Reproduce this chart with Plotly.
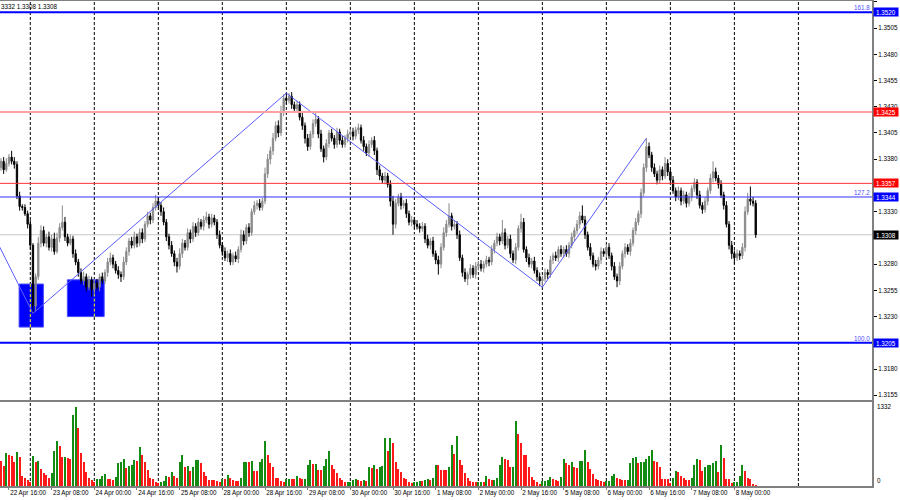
import pandas as pd
import plotly.graph_objects as go

# ---------------- data ----------------
start_time = "2025-04-22 13:00"
end_time = "2025-05-08 08:00"
first_open = 1.3372

close_22apr = [1.3378, 1.3370, 1.3376, 1.3382, 1.3378, 1.3375, 1.3345, 1.3335, 1.3334, 1.3328, 1.3318]
close_23apr = [1.3298, 1.3240, 1.3268, 1.3300, 1.3312, 1.3300, 1.3306, 1.3296, 1.3304, 1.3292, 1.3305, 1.3315,
               1.3320, 1.3306, 1.3300, 1.3304, 1.3290, 1.3282, 1.3272, 1.3264, 1.3268, 1.3258, 1.3265, 1.3256]
close_24apr = [1.3262, 1.3258, 1.3268, 1.3264, 1.3272, 1.3282, 1.3286, 1.3280, 1.3274, 1.3270, 1.3268, 1.3282,
               1.3292, 1.3302, 1.3298, 1.3306, 1.3300, 1.3310, 1.3304, 1.3318, 1.3326, 1.3322, 1.3334, 1.3340]
close_25apr = [1.3336, 1.3330, 1.3320, 1.3306, 1.3298, 1.3290, 1.3282, 1.3278, 1.3290, 1.3300, 1.3296, 1.3310,
               1.3304, 1.3316, 1.3310, 1.3320, 1.3316, 1.3322, 1.3325, 1.3318, 1.3324, 1.3320, 1.3308, 1.3298]
close_28apr = [1.3292, 1.3286, 1.3290, 1.3282, 1.3288, 1.3285, 1.3294, 1.3308, 1.3302, 1.3315, 1.3310, 1.3330,
               1.3336, 1.3338, 1.3334, 1.3340, 1.3366, 1.3380, 1.3388, 1.3400, 1.3412, 1.3405, 1.3425, 1.3438]
close_29apr = [1.3436, 1.3440, 1.3432, 1.3428, 1.3432, 1.3420, 1.3412, 1.3400, 1.3392, 1.3404, 1.3414, 1.3418,
               1.3404, 1.3390, 1.3382, 1.3395, 1.3405, 1.3400, 1.3394, 1.3406, 1.3398, 1.3394, 1.3400, 1.3404]
close_30apr = [1.3406, 1.3402, 1.3408, 1.3410, 1.3398, 1.3392, 1.3386, 1.3394, 1.3398, 1.3388, 1.3370, 1.3364,
               1.3360, 1.3364, 1.3356, 1.3340, 1.3318, 1.3338, 1.3344, 1.3336, 1.3338, 1.3328, 1.3320, 1.3322]
close_01may = [1.3318, 1.3316, 1.3314, 1.3316, 1.3304, 1.3298, 1.3302, 1.3290, 1.3284, 1.3280, 1.3296, 1.3310,
               1.3318, 1.3326, 1.3316, 1.3318, 1.3308, 1.3286, 1.3272, 1.3266, 1.3270, 1.3276, 1.3270, 1.3278]
close_02may = [1.3280, 1.3276, 1.3280, 1.3284, 1.3282, 1.3294, 1.3300, 1.3306, 1.3302, 1.3310, 1.3298, 1.3304,
               1.3290, 1.3284, 1.3296, 1.3314, 1.3320, 1.3294, 1.3286, 1.3280, 1.3283, 1.3274, 1.3268, 1.3264]
close_05may = [1.3266, 1.3272, 1.3270, 1.3284, 1.3288, 1.3286, 1.3294, 1.3290, 1.3294, 1.3290, 1.3298, 1.3306,
               1.3312, 1.3318, 1.3326, 1.3322, 1.3308, 1.3296, 1.3288, 1.3280, 1.3278, 1.3284, 1.3292, 1.3290]
close_06may = [1.3296, 1.3288, 1.3278, 1.3268, 1.3264, 1.3278, 1.3290, 1.3296, 1.3292, 1.3300, 1.3312, 1.3320,
               1.3328, 1.3348, 1.3372, 1.3392, 1.3384, 1.3372, 1.3366, 1.3360, 1.3370, 1.3364, 1.3376, 1.3368]
close_07may = [1.3360, 1.3350, 1.3344, 1.3350, 1.3340, 1.3346, 1.3338, 1.3344, 1.3352, 1.3358, 1.3346, 1.3336,
               1.3332, 1.3340, 1.3350, 1.3362, 1.3368, 1.3362, 1.3356, 1.3346, 1.3336, 1.3318, 1.3298, 1.3290]
close_08may = [1.3286, 1.3290, 1.3288, 1.3296, 1.3330, 1.3342, 1.3340, 1.3338, 1.3308]

# upper / lower wick lengths in pips
wick_up = ([3, 4, 5, 3, 6, 4, 3, 4, 2, 3, 3] +
           [4, 2, 3, 6, 5, 4, 3, 5, 4, 6, 5, 4, 16, 5, 3, 4, 3, 4, 3, 4, 5, 3, 4, 3] +
           [3, 4, 3, 4, 3, 4, 5, 3, 3, 4, 3, 5, 4, 3, 4, 5, 3, 4, 4, 3, 4, 3, 4, 6] +
           [4, 3, 4, 3, 3, 4, 3, 4, 5, 4, 3, 4, 3, 4, 3, 4, 3, 4, 5, 3, 4, 3, 3, 4] +
           [3, 4, 3, 4, 3, 4, 3, 5, 4, 3, 4, 3, 4, 3, 4, 3, 6, 5, 4, 5, 4, 5, 6, 4] +
           [5, 3, 4, 3, 4, 3, 4, 3, 4, 3, 4, 7, 3, 4, 3, 4, 3, 4, 3, 4, 3, 4, 3, 4] +
           [3, 4, 3, 4, 3, 4, 3, 4, 3, 4, 3, 4, 3, 4, 3, 4, 5, 4, 3, 4, 3, 4, 3, 4] +
           [3, 4, 3, 4, 3, 4, 3, 4, 3, 4, 4, 5, 4, 12, 3, 4, 3, 4, 3, 4, 3, 4, 3, 4] +
           [3, 4, 3, 4, 3, 4, 3, 4, 3, 12, 4, 3, 4, 3, 4, 3, 8, 4, 3, 4, 3, 4, 3, 4] +
           [3, 4, 3, 4, 3, 4, 3, 4, 3, 4, 3, 4, 3, 4, 4, 10, 4, 3, 4, 3, 4, 3, 4, 3] +
           [3, 4, 3, 4, 3, 4, 3, 4, 3, 4, 3, 4, 3, 4, 4, 8, 4, 3, 4, 3, 4, 3, 6, 4] +
           [3, 4, 3, 4, 3, 4, 3, 4, 3, 4, 3, 4, 3, 4, 3, 4, 10, 4, 3, 4, 3, 4, 3, 4] +
           [3, 4, 3, 4, 5, 6, 12, 4, 3])
wick_dn = ([3, 4, 2, 3, 3, 4, 3, 4, 3, 2, 4] +
           [4, 7, 5, 3, 4, 3, 4, 3, 4, 3, 2, 4, 3, 4, 3, 2, 4, 3, 4, 3, 4, 4, 3, 7] +
           [4, 3, 4, 3, 3, 4, 3, 4, 3, 4, 5, 3, 3, 4, 3, 3, 4, 3, 4, 3, 3, 4, 3, 3] +
           [3, 4, 3, 4, 4, 3, 4, 6, 3, 4, 3, 3, 4, 3, 4, 3, 3, 4, 3, 4, 3, 3, 4, 3] +
           [4, 3, 4, 3, 3, 3, 4, 3, 4, 3, 4, 3, 3, 4, 3, 3, 3, 4, 5, 4, 3, 4, 3, 4] +
           [4, 3, 4, 3, 4, 3, 4, 5, 4, 3, 4, 3, 4, 3, 5, 3, 4, 3, 4, 3, 4, 3, 3, 4] +
           [3, 4, 3, 4, 3, 4, 3, 4, 3, 4, 5, 4, 3, 4, 3, 5, 10, 4, 3, 4, 3, 4, 3, 4] +
           [4, 3, 4, 3, 4, 3, 4, 3, 4, 10, 4, 3, 4, 3, 4, 3, 4, 3, 4, 3, 6, 4, 3, 4] +
           [4, 3, 4, 3, 4, 3, 4, 3, 4, 3, 4, 3, 4, 3, 4, 3, 4, 3, 4, 3, 4, 3, 4, 5] +
           [6, 3, 4, 3, 4, 3, 4, 3, 4, 3, 4, 3, 4, 3, 4, 3, 4, 3, 4, 3, 4, 3, 4, 3] +
           [4, 3, 4, 3, 6, 4, 3, 4, 3, 4, 3, 4, 3, 4, 3, 4, 3, 4, 3, 4, 3, 4, 3, 4] +
           [4, 3, 4, 3, 4, 3, 4, 3, 4, 3, 4, 3, 4, 3, 4, 3, 4, 3, 4, 3, 4, 3, 4, 5] +
           [6, 3, 4, 3, 4, 3, 4, 3, 3])

vol_22apr = [425, 340, 550, 527, 510, 397, 578, 482, 170, 130, 96]
vol_23apr = [74, 510, 408, 414, 284, 210, 187, 142, 210, 595, 754, 680, 482, 487, 465, 460, 1190, 1332, 981, 550, 397, 227, 130, 102]
vol_24apr = [74, 113, 125, 170, 198, 113, 110, 102, 153, 380, 397, 454, 295, 340, 352, 437, 425, 652, 522, 397, 266, 130, 113, 74]
vol_25apr = [57, 68, 85, 170, 153, 227, 170, 142, 397, 527, 323, 330, 255, 323, 442, 445, 380, 227, 170, 102, 98, 96, 85, 68]
vol_28apr = [113, 110, 187, 130, 96, 85, 80, 130, 397, 408, 397, 425, 255, 250, 397, 454, 748, 522, 380, 312, 142, 138, 85, 68]
vol_29apr = [113, 118, 113, 110, 170, 142, 113, 125, 352, 437, 369, 372, 272, 266, 340, 454, 584, 357, 284, 210, 142, 102, 66, 70]
vol_30apr = [74, 102, 113, 102, 85, 102, 85, 323, 300, 357, 284, 312, 329, 805, 584, 810, 720, 397, 284, 227, 130, 113, 74, 57]
vol_01may = [62, 74, 85, 80, 102, 113, 108, 130, 352, 345, 272, 268, 265, 323, 697, 539, 833, 437, 352, 210, 130, 85, 74, 62]
vol_02may = [68, 70, 66, 170, 113, 96, 102, 142, 352, 482, 454, 437, 312, 323, 1094, 879, 726, 527, 520, 312, 153, 96, 74, 28]
vol_05may = [85, 88, 96, 153, 113, 96, 85, 153, 454, 380, 357, 397, 312, 305, 414, 425, 607, 397, 284, 198, 113, 102, 85, 74]
vol_06may = [78, 80, 170, 198, 142, 113, 96, 94, 102, 386, 471, 493, 380, 397, 400, 454, 510, 607, 425, 408, 312, 125, 113, 110]
vol_07may = [57, 142, 244, 227, 170, 130, 102, 96, 142, 357, 454, 437, 244, 312, 352, 355, 386, 425, 238, 697, 471, 125, 113, 57]
vol_08may = [68, 70, 170, 357, 244, 142, 113, 40, 20]

level_prices = [1.3520, 1.3425, 1.3357, 1.3344, 1.3205]
level_labels = ["1.3520", "1.3425", "1.3357", "1.3344", "1.3205"]
level_fib = ["161.8", "", "", "127.2", "100.0"]
bid_price = 1.3308
bid_label = "1.3308"
header_text = "3332 1.3308 1.3308"
vol_max_label = "1332"

zigzag_bar = [-13, 1, 96, 192, 231]
zigzag_price = [1.3304, 1.3233, 1.3443, 1.3258, 1.3400]

zone_bar0 = [-4.2, 13.9]
zone_bar1 = [4.9, 27.7]
zone_low = [1.3220, 1.3230]
zone_high = [1.3261, 1.3265]

price_ticks = [1.3155, 1.3180, 1.3205, 1.3230, 1.3255, 1.3280, 1.3305, 1.3330,
               1.3355, 1.3380, 1.3405, 1.3430, 1.3455, 1.3480, 1.3505, 1.3530]
# labels hidden behind the level boxes in the reference are left blank
price_tick_text = ["1.3155", "1.3180", "", "1.3230", "1.3255", "1.3280", "", "1.3330",
                   "", "1.3380", "1.3405", "1.3430", "1.3455", "1.3480", "1.3505", "1.3530"]

# ---------------- build ----------------
close = (close_22apr + close_23apr + close_24apr + close_25apr + close_28apr + close_29apr +
         close_30apr + close_01may + close_02may + close_05may + close_06may + close_07may + close_08may)
volume = (vol_22apr + vol_23apr + vol_24apr + vol_25apr + vol_28apr + vol_29apr +
          vol_30apr + vol_01may + vol_02may + vol_05may + vol_06may + vol_07may + vol_08may)

hours = pd.date_range(start_time, end_time, freq="h")
times = [t for t in hours if t.dayofweek < 5]
n = len(times)
assert len(close) == n and len(volume) == n and len(wick_up) == n and len(wick_dn) == n

k0 = times.index(pd.Timestamp("2025-04-23 00:00"))
xk = [i - k0 for i in range(n)]
opens = [first_open] + close[:-1]
highs = [max(o, c) + u * 0.0001 for o, c, u in zip(opens, close, wick_up)]
lows = [min(o, c) - d * 0.0001 for o, c, d in zip(opens, close, wick_dn)]

GREEN = "#148c14"
RED = "#ff1a1a"
vcol = [RED] + [GREEN if volume[i] > volume[i - 1] else RED for i in range(1, n)]

midnights = [xk[i] for i, t in enumerate(times) if t.hour == 0]
midnights.append(midnights[-1] + 24)

lab0 = times.index(pd.Timestamp("2025-04-22 16:00"))
lab_idx = list(range(lab0, n, 16))
lab_x = [xk[i] for i in lab_idx]
lab_text = [f"{times[i].day} {times[i].strftime('%b')} {times[i].strftime('%H:%M')}" for i in lab_idx]

PX = 2.667
X_LEFT = -30.3 / PX
X_RIGHT = (872 - 30.3) / PX

FONT = "Liberation Sans, Arial, sans-serif"
FS = 6.3

fig = go.Figure()
fig.add_trace(go.Candlestick(
    x=xk, open=opens, high=highs, low=lows, close=close,
    increasing=dict(line=dict(color="#8a8a8a", width=1), fillcolor="#8a8a8a"),
    decreasing=dict(line=dict(color="#000000", width=1), fillcolor="#000000"),
    whiskerwidth=0, xaxis="x", yaxis="y", hoverinfo="skip", showlegend=False))
fig.add_trace(go.Scatter(x=zigzag_bar, y=zigzag_price, mode="lines",
                         line=dict(color="#5c5cff", width=1), xaxis="x", yaxis="y",
                         hoverinfo="skip", showlegend=False))
fig.add_trace(go.Bar(x=xk, y=volume, marker=dict(color=vcol, line=dict(width=0)), width=0.72,
                     xaxis="x2", yaxis="y2", hoverinfo="skip", showlegend=False))

shapes = []
for a, b, lo, hi in zip(zone_bar0, zone_bar1, zone_low, zone_high):
    shapes.append(dict(type="rect", xref="x", yref="y", x0=a, x1=b, y0=lo, y1=hi,
                       fillcolor="#0000ff", line=dict(color="#4646ff", width=1), layer="below"))
for m in midnights:
    for yr in ("y domain", "y2 domain"):
        shapes.append(dict(type="line", xref="x", yref=yr, x0=m, x1=m, y0=0, y1=1,
                           line=dict(color="#000000", width=1, dash="3px,2px"), layer="below"))
for a, b, lo, hi in zip(zone_bar0, zone_bar1, zone_low, zone_high):
    for m in midnights:
        if a < m < b:
            shapes.append(dict(type="line", xref="x", yref="y", x0=m, x1=m, y0=lo, y1=hi,
                               line=dict(color="#ffff00", width=1, dash="3px,2px"), layer="below"))
shapes.append(dict(type="line", xref="paper", yref="y", x0=0, x1=1, y0=bid_price, y1=bid_price,
                   line=dict(color="#c8c8c8", width=1), layer="below"))
level_style = [("#0000ff", 2), ("#ffa0a0", 2), ("#ff3030", 1), ("#3030ff", 1), ("#0000ff", 2)]
for p, (c, w) in zip(level_prices, level_style):
    shapes.append(dict(type="line", xref="paper", yref="y", x0=0, x1=1, y0=p, y1=p,
                       line=dict(color=c, width=w), layer="above"))

annotations = []
box_colors = ["#0000ff", "#ff0000", "#ff0000", "#0000ff", "#0000ff"]
for p, t, bc, fib in zip(level_prices, level_labels, box_colors, level_fib):
    annotations.append(dict(xref="paper", yref="y", x=1, y=p, xanchor="left", yanchor="middle",
                            xshift=1, text=t, showarrow=False, bgcolor=bc, borderpad=0,
                            width=24, height=8, font=dict(family=FONT, size=FS, color="white")))
    if fib:
        annotations.append(dict(xref="paper", yref="y", x=1, y=p, xanchor="right", yanchor="bottom",
                                xshift=-1, text=fib, showarrow=False, borderpad=0,
                                font=dict(family=FONT, size=FS, color="#5050ff")))
annotations.append(dict(xref="paper", yref="y", x=1, y=bid_price, xanchor="left", yanchor="middle",
                        xshift=1, text=bid_label, showarrow=False, bgcolor="#000000", borderpad=0,
                        width=24, height=8, font=dict(family=FONT, size=FS, color="white")))
annotations.append(dict(xref="paper", yref="paper", x=0, y=1, xanchor="left", yanchor="top",
                        yshift=-1, text=header_text, showarrow=False, borderpad=0,
                        font=dict(family=FONT, size=FS, color="#000000")))
annotations.append(dict(xref="paper", yref="y2", x=1, y=1332, xanchor="left", yanchor="middle",
                        xshift=4, text=vol_max_label, showarrow=False, borderpad=0,
                        font=dict(family=FONT, size=FS, color="#000000")))
annotations.append(dict(xref="paper", yref="y2", x=1, y=0, xanchor="left", yanchor="middle",
                        xshift=4, yshift=5, text="0", showarrow=False, borderpad=0,
                        font=dict(family=FONT, size=FS, color="#000000")))

AX = "#808080"
fig.update_layout(
    width=900, height=500,
    margin=dict(l=0, r=28, t=1, b=14),
    paper_bgcolor="white", plot_bgcolor="white",
    showlegend=False, bargap=0,
    font=dict(family=FONT, size=FS, color="#000000"),
    xaxis=dict(domain=[0, 1], anchor="y", range=[X_LEFT, X_RIGHT], showgrid=False, zeroline=False,
               showline=True, mirror=True, linecolor=AX, linewidth=1.5, showticklabels=False,
               ticks="", rangeslider=dict(visible=False)),
    xaxis2=dict(domain=[0, 1], anchor="y2", matches="x", range=[X_LEFT, X_RIGHT], showgrid=False,
                zeroline=False, showline=True, mirror=True, linecolor=AX, linewidth=1.5,
                tickmode="array", tickvals=lab_x, ticktext=lab_text, ticks="outside", ticklen=2,
                tickcolor=AX, ticklabelposition="outside right", tickangle=0,
                tickfont=dict(family=FONT, size=FS, color="#000000")),
    yaxis=dict(domain=[0.17732, 1], anchor="x", side="right", range=[1.31505, 1.35308],
               showgrid=False, zeroline=False, showline=True, linecolor=AX, linewidth=2,
               tickmode="array", tickvals=price_ticks, ticktext=price_tick_text,
               ticks="outside", ticklen=3, tickcolor="#000000",
               tickfont=dict(family=FONT, size=FS, color="#000000")),
    yaxis2=dict(domain=[0, 0.1732], anchor="x2", side="right", range=[0, 1411],
                showgrid=False, zeroline=False, showline=True, linecolor=AX, linewidth=2,
                showticklabels=False, ticks=""),
    shapes=shapes, annotations=annotations,
)

fig.write_html("out.html", config={"displayModeBar": False, "staticPlot": True},
               post_script="document.body.style.margin='0';document.body.style.overflow='hidden';")
